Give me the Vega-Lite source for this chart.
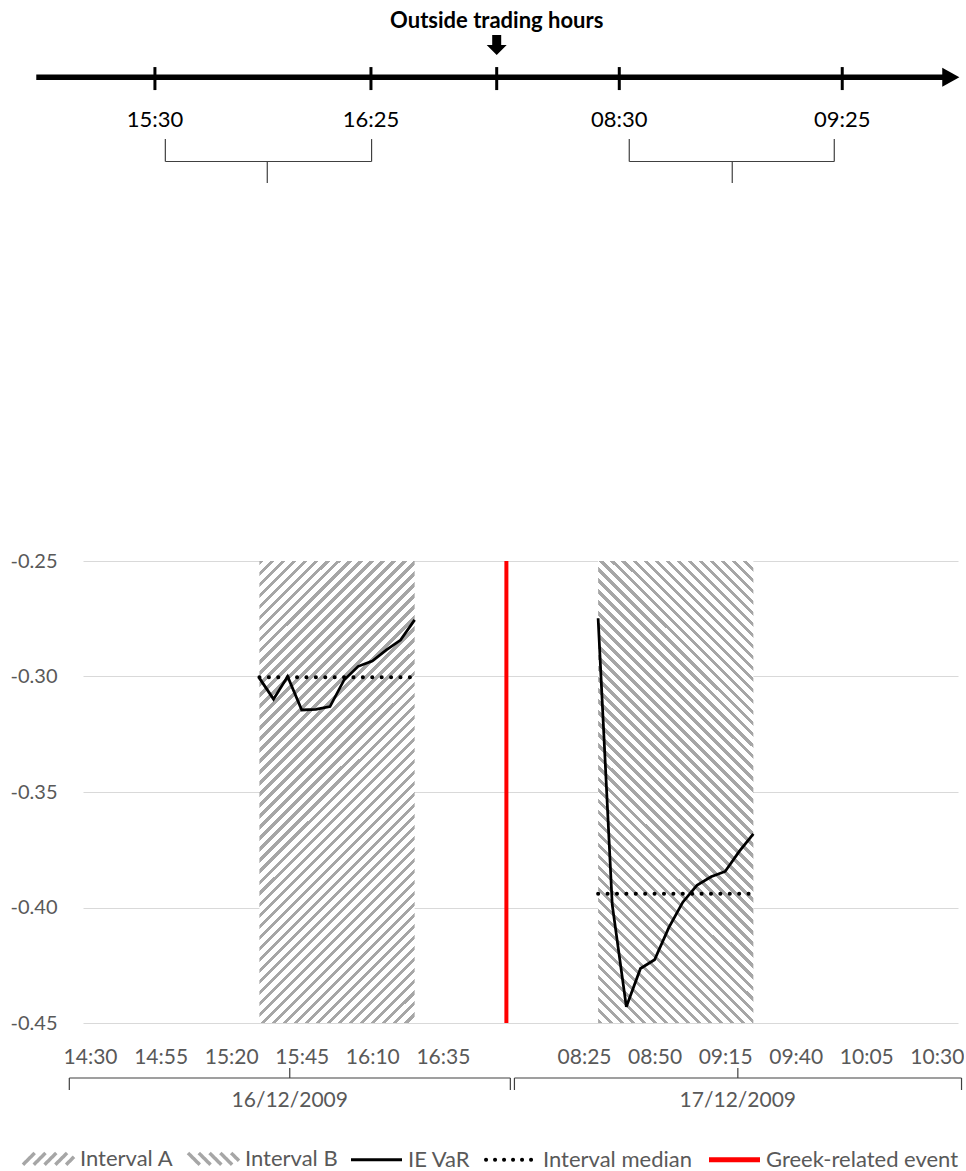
{
"$schema":"https://vega.github.io/schema/vega-lite/v6.json",
"padding":{"left":10,"top":0,"right":0,"bottom":0},
"autosize":{"type":"pad"},
"background":"#ffffff",
"bounds":"flush",
"spacing":371,
"config":{"view":{"stroke":null},"font":"Lato"},
"datasets":{
 "timeline":[{"from":-5.34,"to":98.5,"head":99.18}],
 "ticks":[{"label":"15:30","pos":8.22},{"label":"16:25","pos":32.91},{"label":"","pos":47.28},{"label":"08:30","pos":61.29},{"label":"09:25","pos":86.77}],
 "braces":[{"from":9.41,"to":32.98,"mid":21.06},{"from":62.43,"to":85.86,"mid":74.2}],
 "note":[{"note":"Outside trading hours","pos":47.28}],
 "var":[
  {"interval":"Interval A","date":"16/12/2009","time":"15:30","slot":12,"var":-0.3007},
  {"interval":"Interval A","date":"16/12/2009","time":"15:35","slot":13,"var":-0.3098},
  {"interval":"Interval A","date":"16/12/2009","time":"15:40","slot":14,"var":-0.3000},
  {"interval":"Interval A","date":"16/12/2009","time":"15:45","slot":15,"var":-0.3145},
  {"interval":"Interval A","date":"16/12/2009","time":"15:50","slot":16,"var":-0.3142},
  {"interval":"Interval A","date":"16/12/2009","time":"15:55","slot":17,"var":-0.3130},
  {"interval":"Interval A","date":"16/12/2009","time":"16:00","slot":18,"var":-0.3015},
  {"interval":"Interval A","date":"16/12/2009","time":"16:05","slot":19,"var":-0.2956},
  {"interval":"Interval A","date":"16/12/2009","time":"16:10","slot":20,"var":-0.2933},
  {"interval":"Interval A","date":"16/12/2009","time":"16:15","slot":21,"var":-0.2885},
  {"interval":"Interval A","date":"16/12/2009","time":"16:20","slot":22,"var":-0.2842},
  {"interval":"Interval A","date":"16/12/2009","time":"16:25","slot":23,"var":-0.2755},
  {"interval":"Interval B","date":"17/12/2009","time":"08:30","slot":36,"var":-0.2748},
  {"interval":"Interval B","date":"17/12/2009","time":"08:35","slot":37,"var":-0.3988},
  {"interval":"Interval B","date":"17/12/2009","time":"08:40","slot":38,"var":-0.4430},
  {"interval":"Interval B","date":"17/12/2009","time":"08:45","slot":39,"var":-0.4264},
  {"interval":"Interval B","date":"17/12/2009","time":"08:50","slot":40,"var":-0.4226},
  {"interval":"Interval B","date":"17/12/2009","time":"08:55","slot":41,"var":-0.4088},
  {"interval":"Interval B","date":"17/12/2009","time":"09:00","slot":42,"var":-0.3977},
  {"interval":"Interval B","date":"17/12/2009","time":"09:05","slot":43,"var":-0.3904},
  {"interval":"Interval B","date":"17/12/2009","time":"09:10","slot":44,"var":-0.3867},
  {"interval":"Interval B","date":"17/12/2009","time":"09:15","slot":45,"var":-0.3844},
  {"interval":"Interval B","date":"17/12/2009","time":"09:20","slot":46,"var":-0.3757},
  {"interval":"Interval B","date":"17/12/2009","time":"09:25","slot":47,"var":-0.3681}
 ],
 "event":[{"event":"Greek-related event","slot":29.5}],
 "dates":[{"date":"16/12/2009","start":-1.47,"end":29.78,"mid":14.15},{"date":"17/12/2009","start":30.07,"end":61.75,"mid":45.9}]
},
"vconcat":[
 {
  "width":875,"height":190,
  "layer":[
   {"data":{"name":"timeline"},
    "mark":{"type":"rule","color":"#000000","strokeWidth":5.5},
    "encoding":{"x":{"field":"from","type":"quantitative","scale":{"domain":[0,100],"nice":false,"zero":false},"axis":null},"x2":{"field":"to"},"y":{"datum":0.593,"type":"quantitative","scale":{"domain":[0,1],"nice":false,"zero":false},"axis":null}}},
   {"data":{"name":"timeline"},
    "mark":{"type":"point","shape":"M-0.9,-1L0.9,0L-0.9,1Z","filled":true,"size":361,"color":"#000000","opacity":1},
    "encoding":{"x":{"field":"head","type":"quantitative","axis":null},"y":{"datum":0.593,"type":"quantitative","axis":null}}},
   {"data":{"name":"ticks"},
    "mark":{"type":"rule","color":"#000000","strokeWidth":3},
    "encoding":{"x":{"field":"pos","type":"quantitative","axis":null},"y":{"datum":0.647,"type":"quantitative","axis":null},"y2":{"datum":0.526}}},
   {"data":{"name":"ticks"},
    "mark":{"type":"text","font":"Lato","fontSize":22,"color":"#000000","baseline":"middle","align":"center"},
    "encoding":{"x":{"field":"pos","type":"quantitative","axis":null},"y":{"datum":0.366,"type":"quantitative","axis":null},"text":{"field":"label"}}},
   {"data":{"name":"braces"},
    "mark":{"type":"rule","color":"#404040","strokeWidth":1.2},
    "encoding":{"x":{"field":"from","type":"quantitative","axis":null},"x2":{"field":"to"},"y":{"datum":0.15,"type":"quantitative","axis":null}}},
   {"data":{"name":"braces"},
    "mark":{"type":"rule","color":"#404040","strokeWidth":1.2},
    "encoding":{"x":{"field":"from","type":"quantitative","axis":null},"y":{"datum":0.268,"type":"quantitative","axis":null},"y2":{"datum":0.15}}},
   {"data":{"name":"braces"},
    "mark":{"type":"rule","color":"#404040","strokeWidth":1.2},
    "encoding":{"x":{"field":"to","type":"quantitative","axis":null},"y":{"datum":0.268,"type":"quantitative","axis":null},"y2":{"datum":0.15}}},
   {"data":{"name":"braces"},
    "mark":{"type":"rule","color":"#404040","strokeWidth":1.2},
    "encoding":{"x":{"field":"mid","type":"quantitative","axis":null},"y":{"datum":0.15,"type":"quantitative","axis":null},"y2":{"datum":0.037}}},
   {"data":{"name":"note"},
    "mark":{"type":"text","font":"Lato","fontSize":22,"fontWeight":"bold","color":"#000000","baseline":"middle","align":"center"},
    "encoding":{"x":{"field":"pos","type":"quantitative","axis":null},"y":{"datum":0.892,"type":"quantitative","axis":null},"text":{"field":"note"}}},
   {"data":{"name":"note"},
    "mark":{"type":"point","shape":"M-0.45,-1H0.45V0H1L0,1L-1,0H-0.45Z","filled":true,"size":400,"color":"#000000","opacity":1},
    "encoding":{"x":{"field":"pos","type":"quantitative","axis":null},"y":{"datum":0.763,"type":"quantitative","axis":null}}}
  ]
 },
 {
  "bounds":"flush",
  "spacing":42,
  "vconcat":[
   {
    "width":875,"height":462,
    "data":{"name":"var"},
    "encoding":{"x":{"field":"slot","type":"quantitative","scale":{"domain":[-0.5,61.5],"nice":false,"zero":false},
      "axis":{"title":null,"values":[0,5,10,15,20,25,35,40,45,50,55,60],"labelExpr":"timeFormat(datetime(2009, 11, datum.value < 30 ? 16 : 17, 0, datum.value < 30 ? 870 + 5 * datum.value : 330 + 5 * datum.value), '%H:%M')","grid":false,"ticks":false,"domain":false,"labelFont":"Lato","labelFontSize":21,"labelColor":"#595959","labelPadding":23,"labelFlush":false,"labelOverlap":false}}},
    "layer":[
     {"transform":[{"filter":"datum.interval === 'Interval A'"},{"aggregate":[{"op":"min","field":"slot","as":"slot"},{"op":"max","field":"slot","as":"slot_end"}],"groupby":["interval"]}],
      "mark":{"type":"rect","fill":{"gradient":"linear","x1":0,"y1":0,"x2":0.403,"y2":1.2004,"stops":[
{"offset":0,"color":"#a6a6a6"},{"offset":0.0071,"color":"#a6a6a6"},{"offset":0.0071,"color":"#fff"},{"offset":0.0179,"color":"#fff"},
{"offset":0.0179,"color":"#a6a6a6"},{"offset":0.025,"color":"#a6a6a6"},{"offset":0.025,"color":"#fff"},{"offset":0.0357,"color":"#fff"},
{"offset":0.0357,"color":"#a6a6a6"},{"offset":0.0429,"color":"#a6a6a6"},{"offset":0.0429,"color":"#fff"},{"offset":0.0536,"color":"#fff"},
{"offset":0.0536,"color":"#a6a6a6"},{"offset":0.0607,"color":"#a6a6a6"},{"offset":0.0607,"color":"#fff"},{"offset":0.0714,"color":"#fff"},
{"offset":0.0714,"color":"#a6a6a6"},{"offset":0.0786,"color":"#a6a6a6"},{"offset":0.0786,"color":"#fff"},{"offset":0.0893,"color":"#fff"},
{"offset":0.0893,"color":"#a6a6a6"},{"offset":0.0964,"color":"#a6a6a6"},{"offset":0.0964,"color":"#fff"},{"offset":0.1071,"color":"#fff"},
{"offset":0.1071,"color":"#a6a6a6"},{"offset":0.1143,"color":"#a6a6a6"},{"offset":0.1143,"color":"#fff"},{"offset":0.125,"color":"#fff"},
{"offset":0.125,"color":"#a6a6a6"},{"offset":0.1321,"color":"#a6a6a6"},{"offset":0.1321,"color":"#fff"},{"offset":0.1429,"color":"#fff"},
{"offset":0.1429,"color":"#a6a6a6"},{"offset":0.15,"color":"#a6a6a6"},{"offset":0.15,"color":"#fff"},{"offset":0.1607,"color":"#fff"},
{"offset":0.1607,"color":"#a6a6a6"},{"offset":0.1679,"color":"#a6a6a6"},{"offset":0.1679,"color":"#fff"},{"offset":0.1786,"color":"#fff"},
{"offset":0.1786,"color":"#a6a6a6"},{"offset":0.1857,"color":"#a6a6a6"},{"offset":0.1857,"color":"#fff"},{"offset":0.1964,"color":"#fff"},
{"offset":0.1964,"color":"#a6a6a6"},{"offset":0.2036,"color":"#a6a6a6"},{"offset":0.2036,"color":"#fff"},{"offset":0.2143,"color":"#fff"},
{"offset":0.2143,"color":"#a6a6a6"},{"offset":0.2214,"color":"#a6a6a6"},{"offset":0.2214,"color":"#fff"},{"offset":0.2321,"color":"#fff"},
{"offset":0.2321,"color":"#a6a6a6"},{"offset":0.2393,"color":"#a6a6a6"},{"offset":0.2393,"color":"#fff"},{"offset":0.25,"color":"#fff"},
{"offset":0.25,"color":"#a6a6a6"},{"offset":0.2571,"color":"#a6a6a6"},{"offset":0.2571,"color":"#fff"},{"offset":0.2679,"color":"#fff"},
{"offset":0.2679,"color":"#a6a6a6"},{"offset":0.275,"color":"#a6a6a6"},{"offset":0.275,"color":"#fff"},{"offset":0.2857,"color":"#fff"},
{"offset":0.2857,"color":"#a6a6a6"},{"offset":0.2929,"color":"#a6a6a6"},{"offset":0.2929,"color":"#fff"},{"offset":0.3036,"color":"#fff"},
{"offset":0.3036,"color":"#a6a6a6"},{"offset":0.3107,"color":"#a6a6a6"},{"offset":0.3107,"color":"#fff"},{"offset":0.3214,"color":"#fff"},
{"offset":0.3214,"color":"#a6a6a6"},{"offset":0.3286,"color":"#a6a6a6"},{"offset":0.3286,"color":"#fff"},{"offset":0.3393,"color":"#fff"},
{"offset":0.3393,"color":"#a6a6a6"},{"offset":0.3464,"color":"#a6a6a6"},{"offset":0.3464,"color":"#fff"},{"offset":0.3571,"color":"#fff"},
{"offset":0.3571,"color":"#a6a6a6"},{"offset":0.3643,"color":"#a6a6a6"},{"offset":0.3643,"color":"#fff"},{"offset":0.375,"color":"#fff"},
{"offset":0.375,"color":"#a6a6a6"},{"offset":0.3821,"color":"#a6a6a6"},{"offset":0.3821,"color":"#fff"},{"offset":0.3929,"color":"#fff"},
{"offset":0.3929,"color":"#a6a6a6"},{"offset":0.4,"color":"#a6a6a6"},{"offset":0.4,"color":"#fff"},{"offset":0.4107,"color":"#fff"},
{"offset":0.4107,"color":"#a6a6a6"},{"offset":0.4179,"color":"#a6a6a6"},{"offset":0.4179,"color":"#fff"},{"offset":0.4286,"color":"#fff"},
{"offset":0.4286,"color":"#a6a6a6"},{"offset":0.4357,"color":"#a6a6a6"},{"offset":0.4357,"color":"#fff"},{"offset":0.4464,"color":"#fff"},
{"offset":0.4464,"color":"#a6a6a6"},{"offset":0.4536,"color":"#a6a6a6"},{"offset":0.4536,"color":"#fff"},{"offset":0.4643,"color":"#fff"},
{"offset":0.4643,"color":"#a6a6a6"},{"offset":0.4714,"color":"#a6a6a6"},{"offset":0.4714,"color":"#fff"},{"offset":0.4821,"color":"#fff"},
{"offset":0.4821,"color":"#a6a6a6"},{"offset":0.4893,"color":"#a6a6a6"},{"offset":0.4893,"color":"#fff"},{"offset":0.5,"color":"#fff"},
{"offset":0.5,"color":"#a6a6a6"},{"offset":0.5071,"color":"#a6a6a6"},{"offset":0.5071,"color":"#fff"},{"offset":0.5179,"color":"#fff"},
{"offset":0.5179,"color":"#a6a6a6"},{"offset":0.525,"color":"#a6a6a6"},{"offset":0.525,"color":"#fff"},{"offset":0.5357,"color":"#fff"},
{"offset":0.5357,"color":"#a6a6a6"},{"offset":0.5429,"color":"#a6a6a6"},{"offset":0.5429,"color":"#fff"},{"offset":0.5536,"color":"#fff"},
{"offset":0.5536,"color":"#a6a6a6"},{"offset":0.5607,"color":"#a6a6a6"},{"offset":0.5607,"color":"#fff"},{"offset":0.5714,"color":"#fff"},
{"offset":0.5714,"color":"#a6a6a6"},{"offset":0.5786,"color":"#a6a6a6"},{"offset":0.5786,"color":"#fff"},{"offset":0.5893,"color":"#fff"},
{"offset":0.5893,"color":"#a6a6a6"},{"offset":0.5964,"color":"#a6a6a6"},{"offset":0.5964,"color":"#fff"},{"offset":0.6071,"color":"#fff"},
{"offset":0.6071,"color":"#a6a6a6"},{"offset":0.6143,"color":"#a6a6a6"},{"offset":0.6143,"color":"#fff"},{"offset":0.625,"color":"#fff"},
{"offset":0.625,"color":"#a6a6a6"},{"offset":0.6321,"color":"#a6a6a6"},{"offset":0.6321,"color":"#fff"},{"offset":0.6429,"color":"#fff"},
{"offset":0.6429,"color":"#a6a6a6"},{"offset":0.65,"color":"#a6a6a6"},{"offset":0.65,"color":"#fff"},{"offset":0.6607,"color":"#fff"},
{"offset":0.6607,"color":"#a6a6a6"},{"offset":0.6679,"color":"#a6a6a6"},{"offset":0.6679,"color":"#fff"},{"offset":0.6786,"color":"#fff"},
{"offset":0.6786,"color":"#a6a6a6"},{"offset":0.6857,"color":"#a6a6a6"},{"offset":0.6857,"color":"#fff"},{"offset":0.6964,"color":"#fff"},
{"offset":0.6964,"color":"#a6a6a6"},{"offset":0.7036,"color":"#a6a6a6"},{"offset":0.7036,"color":"#fff"},{"offset":0.7143,"color":"#fff"},
{"offset":0.7143,"color":"#a6a6a6"},{"offset":0.7214,"color":"#a6a6a6"},{"offset":0.7214,"color":"#fff"},{"offset":0.7321,"color":"#fff"},
{"offset":0.7321,"color":"#a6a6a6"},{"offset":0.7393,"color":"#a6a6a6"},{"offset":0.7393,"color":"#fff"},{"offset":0.75,"color":"#fff"},
{"offset":0.75,"color":"#a6a6a6"},{"offset":0.7571,"color":"#a6a6a6"},{"offset":0.7571,"color":"#fff"},{"offset":0.7679,"color":"#fff"},
{"offset":0.7679,"color":"#a6a6a6"},{"offset":0.775,"color":"#a6a6a6"},{"offset":0.775,"color":"#fff"},{"offset":0.7857,"color":"#fff"},
{"offset":0.7857,"color":"#a6a6a6"},{"offset":0.7929,"color":"#a6a6a6"},{"offset":0.7929,"color":"#fff"},{"offset":0.8036,"color":"#fff"},
{"offset":0.8036,"color":"#a6a6a6"},{"offset":0.8107,"color":"#a6a6a6"},{"offset":0.8107,"color":"#fff"},{"offset":0.8214,"color":"#fff"},
{"offset":0.8214,"color":"#a6a6a6"},{"offset":0.8286,"color":"#a6a6a6"},{"offset":0.8286,"color":"#fff"},{"offset":0.8393,"color":"#fff"},
{"offset":0.8393,"color":"#a6a6a6"},{"offset":0.8464,"color":"#a6a6a6"},{"offset":0.8464,"color":"#fff"},{"offset":0.8571,"color":"#fff"},
{"offset":0.8571,"color":"#a6a6a6"},{"offset":0.8643,"color":"#a6a6a6"},{"offset":0.8643,"color":"#fff"},{"offset":0.875,"color":"#fff"},
{"offset":0.875,"color":"#a6a6a6"},{"offset":0.8821,"color":"#a6a6a6"},{"offset":0.8821,"color":"#fff"},{"offset":0.8929,"color":"#fff"},
{"offset":0.8929,"color":"#a6a6a6"},{"offset":0.9,"color":"#a6a6a6"},{"offset":0.9,"color":"#fff"},{"offset":0.9107,"color":"#fff"},
{"offset":0.9107,"color":"#a6a6a6"},{"offset":0.9179,"color":"#a6a6a6"},{"offset":0.9179,"color":"#fff"},{"offset":0.9286,"color":"#fff"},
{"offset":0.9286,"color":"#a6a6a6"},{"offset":0.9357,"color":"#a6a6a6"},{"offset":0.9357,"color":"#fff"},{"offset":0.9464,"color":"#fff"},
{"offset":0.9464,"color":"#a6a6a6"},{"offset":0.9536,"color":"#a6a6a6"},{"offset":0.9536,"color":"#fff"},{"offset":0.9643,"color":"#fff"},
{"offset":0.9643,"color":"#a6a6a6"},{"offset":0.9714,"color":"#a6a6a6"},{"offset":0.9714,"color":"#fff"},{"offset":0.9821,"color":"#fff"},
{"offset":0.9821,"color":"#a6a6a6"},{"offset":0.9893,"color":"#a6a6a6"},{"offset":0.9893,"color":"#fff"},{"offset":1,"color":"#fff"}
]}},
      "encoding":{"x2":{"field":"slot_end"},"y":{"datum":-0.25,"type":"quantitative","scale":{"domain":[-0.45,-0.25],"nice":false,"zero":false},
        "axis":{"title":null,"values":[-0.45,-0.4,-0.35,-0.3,-0.25],"labelExpr":"replace(format(datum.value, '.2f'), '\u2212', '-')","grid":true,"gridColor":"#d9d9d9","gridWidth":1.2,"ticks":false,"domain":false,"labelFont":"Lato","labelFontSize":20,"labelColor":"#595959","labelPadding":26}},
        "y2":{"datum":-0.45}}},
     {"transform":[{"filter":"datum.interval === 'Interval B'"},{"aggregate":[{"op":"min","field":"slot","as":"slot"},{"op":"max","field":"slot","as":"slot_end"}],"groupby":["interval"]}],
      "mark":{"type":"rect","fill":{"gradient":"linear","x1":0,"y1":1,"x2":0.403,"y2":-0.2004,"stops":[
{"offset":0,"color":"#a6a6a6"},{"offset":0.0071,"color":"#a6a6a6"},{"offset":0.0071,"color":"#fff"},{"offset":0.0179,"color":"#fff"},
{"offset":0.0179,"color":"#a6a6a6"},{"offset":0.025,"color":"#a6a6a6"},{"offset":0.025,"color":"#fff"},{"offset":0.0357,"color":"#fff"},
{"offset":0.0357,"color":"#a6a6a6"},{"offset":0.0429,"color":"#a6a6a6"},{"offset":0.0429,"color":"#fff"},{"offset":0.0536,"color":"#fff"},
{"offset":0.0536,"color":"#a6a6a6"},{"offset":0.0607,"color":"#a6a6a6"},{"offset":0.0607,"color":"#fff"},{"offset":0.0714,"color":"#fff"},
{"offset":0.0714,"color":"#a6a6a6"},{"offset":0.0786,"color":"#a6a6a6"},{"offset":0.0786,"color":"#fff"},{"offset":0.0893,"color":"#fff"},
{"offset":0.0893,"color":"#a6a6a6"},{"offset":0.0964,"color":"#a6a6a6"},{"offset":0.0964,"color":"#fff"},{"offset":0.1071,"color":"#fff"},
{"offset":0.1071,"color":"#a6a6a6"},{"offset":0.1143,"color":"#a6a6a6"},{"offset":0.1143,"color":"#fff"},{"offset":0.125,"color":"#fff"},
{"offset":0.125,"color":"#a6a6a6"},{"offset":0.1321,"color":"#a6a6a6"},{"offset":0.1321,"color":"#fff"},{"offset":0.1429,"color":"#fff"},
{"offset":0.1429,"color":"#a6a6a6"},{"offset":0.15,"color":"#a6a6a6"},{"offset":0.15,"color":"#fff"},{"offset":0.1607,"color":"#fff"},
{"offset":0.1607,"color":"#a6a6a6"},{"offset":0.1679,"color":"#a6a6a6"},{"offset":0.1679,"color":"#fff"},{"offset":0.1786,"color":"#fff"},
{"offset":0.1786,"color":"#a6a6a6"},{"offset":0.1857,"color":"#a6a6a6"},{"offset":0.1857,"color":"#fff"},{"offset":0.1964,"color":"#fff"},
{"offset":0.1964,"color":"#a6a6a6"},{"offset":0.2036,"color":"#a6a6a6"},{"offset":0.2036,"color":"#fff"},{"offset":0.2143,"color":"#fff"},
{"offset":0.2143,"color":"#a6a6a6"},{"offset":0.2214,"color":"#a6a6a6"},{"offset":0.2214,"color":"#fff"},{"offset":0.2321,"color":"#fff"},
{"offset":0.2321,"color":"#a6a6a6"},{"offset":0.2393,"color":"#a6a6a6"},{"offset":0.2393,"color":"#fff"},{"offset":0.25,"color":"#fff"},
{"offset":0.25,"color":"#a6a6a6"},{"offset":0.2571,"color":"#a6a6a6"},{"offset":0.2571,"color":"#fff"},{"offset":0.2679,"color":"#fff"},
{"offset":0.2679,"color":"#a6a6a6"},{"offset":0.275,"color":"#a6a6a6"},{"offset":0.275,"color":"#fff"},{"offset":0.2857,"color":"#fff"},
{"offset":0.2857,"color":"#a6a6a6"},{"offset":0.2929,"color":"#a6a6a6"},{"offset":0.2929,"color":"#fff"},{"offset":0.3036,"color":"#fff"},
{"offset":0.3036,"color":"#a6a6a6"},{"offset":0.3107,"color":"#a6a6a6"},{"offset":0.3107,"color":"#fff"},{"offset":0.3214,"color":"#fff"},
{"offset":0.3214,"color":"#a6a6a6"},{"offset":0.3286,"color":"#a6a6a6"},{"offset":0.3286,"color":"#fff"},{"offset":0.3393,"color":"#fff"},
{"offset":0.3393,"color":"#a6a6a6"},{"offset":0.3464,"color":"#a6a6a6"},{"offset":0.3464,"color":"#fff"},{"offset":0.3571,"color":"#fff"},
{"offset":0.3571,"color":"#a6a6a6"},{"offset":0.3643,"color":"#a6a6a6"},{"offset":0.3643,"color":"#fff"},{"offset":0.375,"color":"#fff"},
{"offset":0.375,"color":"#a6a6a6"},{"offset":0.3821,"color":"#a6a6a6"},{"offset":0.3821,"color":"#fff"},{"offset":0.3929,"color":"#fff"},
{"offset":0.3929,"color":"#a6a6a6"},{"offset":0.4,"color":"#a6a6a6"},{"offset":0.4,"color":"#fff"},{"offset":0.4107,"color":"#fff"},
{"offset":0.4107,"color":"#a6a6a6"},{"offset":0.4179,"color":"#a6a6a6"},{"offset":0.4179,"color":"#fff"},{"offset":0.4286,"color":"#fff"},
{"offset":0.4286,"color":"#a6a6a6"},{"offset":0.4357,"color":"#a6a6a6"},{"offset":0.4357,"color":"#fff"},{"offset":0.4464,"color":"#fff"},
{"offset":0.4464,"color":"#a6a6a6"},{"offset":0.4536,"color":"#a6a6a6"},{"offset":0.4536,"color":"#fff"},{"offset":0.4643,"color":"#fff"},
{"offset":0.4643,"color":"#a6a6a6"},{"offset":0.4714,"color":"#a6a6a6"},{"offset":0.4714,"color":"#fff"},{"offset":0.4821,"color":"#fff"},
{"offset":0.4821,"color":"#a6a6a6"},{"offset":0.4893,"color":"#a6a6a6"},{"offset":0.4893,"color":"#fff"},{"offset":0.5,"color":"#fff"},
{"offset":0.5,"color":"#a6a6a6"},{"offset":0.5071,"color":"#a6a6a6"},{"offset":0.5071,"color":"#fff"},{"offset":0.5179,"color":"#fff"},
{"offset":0.5179,"color":"#a6a6a6"},{"offset":0.525,"color":"#a6a6a6"},{"offset":0.525,"color":"#fff"},{"offset":0.5357,"color":"#fff"},
{"offset":0.5357,"color":"#a6a6a6"},{"offset":0.5429,"color":"#a6a6a6"},{"offset":0.5429,"color":"#fff"},{"offset":0.5536,"color":"#fff"},
{"offset":0.5536,"color":"#a6a6a6"},{"offset":0.5607,"color":"#a6a6a6"},{"offset":0.5607,"color":"#fff"},{"offset":0.5714,"color":"#fff"},
{"offset":0.5714,"color":"#a6a6a6"},{"offset":0.5786,"color":"#a6a6a6"},{"offset":0.5786,"color":"#fff"},{"offset":0.5893,"color":"#fff"},
{"offset":0.5893,"color":"#a6a6a6"},{"offset":0.5964,"color":"#a6a6a6"},{"offset":0.5964,"color":"#fff"},{"offset":0.6071,"color":"#fff"},
{"offset":0.6071,"color":"#a6a6a6"},{"offset":0.6143,"color":"#a6a6a6"},{"offset":0.6143,"color":"#fff"},{"offset":0.625,"color":"#fff"},
{"offset":0.625,"color":"#a6a6a6"},{"offset":0.6321,"color":"#a6a6a6"},{"offset":0.6321,"color":"#fff"},{"offset":0.6429,"color":"#fff"},
{"offset":0.6429,"color":"#a6a6a6"},{"offset":0.65,"color":"#a6a6a6"},{"offset":0.65,"color":"#fff"},{"offset":0.6607,"color":"#fff"},
{"offset":0.6607,"color":"#a6a6a6"},{"offset":0.6679,"color":"#a6a6a6"},{"offset":0.6679,"color":"#fff"},{"offset":0.6786,"color":"#fff"},
{"offset":0.6786,"color":"#a6a6a6"},{"offset":0.6857,"color":"#a6a6a6"},{"offset":0.6857,"color":"#fff"},{"offset":0.6964,"color":"#fff"},
{"offset":0.6964,"color":"#a6a6a6"},{"offset":0.7036,"color":"#a6a6a6"},{"offset":0.7036,"color":"#fff"},{"offset":0.7143,"color":"#fff"},
{"offset":0.7143,"color":"#a6a6a6"},{"offset":0.7214,"color":"#a6a6a6"},{"offset":0.7214,"color":"#fff"},{"offset":0.7321,"color":"#fff"},
{"offset":0.7321,"color":"#a6a6a6"},{"offset":0.7393,"color":"#a6a6a6"},{"offset":0.7393,"color":"#fff"},{"offset":0.75,"color":"#fff"},
{"offset":0.75,"color":"#a6a6a6"},{"offset":0.7571,"color":"#a6a6a6"},{"offset":0.7571,"color":"#fff"},{"offset":0.7679,"color":"#fff"},
{"offset":0.7679,"color":"#a6a6a6"},{"offset":0.775,"color":"#a6a6a6"},{"offset":0.775,"color":"#fff"},{"offset":0.7857,"color":"#fff"},
{"offset":0.7857,"color":"#a6a6a6"},{"offset":0.7929,"color":"#a6a6a6"},{"offset":0.7929,"color":"#fff"},{"offset":0.8036,"color":"#fff"},
{"offset":0.8036,"color":"#a6a6a6"},{"offset":0.8107,"color":"#a6a6a6"},{"offset":0.8107,"color":"#fff"},{"offset":0.8214,"color":"#fff"},
{"offset":0.8214,"color":"#a6a6a6"},{"offset":0.8286,"color":"#a6a6a6"},{"offset":0.8286,"color":"#fff"},{"offset":0.8393,"color":"#fff"},
{"offset":0.8393,"color":"#a6a6a6"},{"offset":0.8464,"color":"#a6a6a6"},{"offset":0.8464,"color":"#fff"},{"offset":0.8571,"color":"#fff"},
{"offset":0.8571,"color":"#a6a6a6"},{"offset":0.8643,"color":"#a6a6a6"},{"offset":0.8643,"color":"#fff"},{"offset":0.875,"color":"#fff"},
{"offset":0.875,"color":"#a6a6a6"},{"offset":0.8821,"color":"#a6a6a6"},{"offset":0.8821,"color":"#fff"},{"offset":0.8929,"color":"#fff"},
{"offset":0.8929,"color":"#a6a6a6"},{"offset":0.9,"color":"#a6a6a6"},{"offset":0.9,"color":"#fff"},{"offset":0.9107,"color":"#fff"},
{"offset":0.9107,"color":"#a6a6a6"},{"offset":0.9179,"color":"#a6a6a6"},{"offset":0.9179,"color":"#fff"},{"offset":0.9286,"color":"#fff"},
{"offset":0.9286,"color":"#a6a6a6"},{"offset":0.9357,"color":"#a6a6a6"},{"offset":0.9357,"color":"#fff"},{"offset":0.9464,"color":"#fff"},
{"offset":0.9464,"color":"#a6a6a6"},{"offset":0.9536,"color":"#a6a6a6"},{"offset":0.9536,"color":"#fff"},{"offset":0.9643,"color":"#fff"},
{"offset":0.9643,"color":"#a6a6a6"},{"offset":0.9714,"color":"#a6a6a6"},{"offset":0.9714,"color":"#fff"},{"offset":0.9821,"color":"#fff"},
{"offset":0.9821,"color":"#a6a6a6"},{"offset":0.9893,"color":"#a6a6a6"},{"offset":0.9893,"color":"#fff"},{"offset":1,"color":"#fff"}
]}},
      "encoding":{"x2":{"field":"slot_end"},"y":{"datum":-0.25,"type":"quantitative",
        "axis":{"title":null,"values":[-0.45,-0.4,-0.35,-0.3,-0.25],"labelExpr":"replace(format(datum.value, '.2f'), '\u2212', '-')","grid":true,"gridColor":"#d9d9d9","gridWidth":1.2,"ticks":false,"domain":false,"labelFont":"Lato","labelFontSize":20,"labelColor":"#595959","labelPadding":26}},
        "y2":{"datum":-0.45}}},
     {"data":{"name":"event"},
      "mark":{"type":"rule","strokeWidth":4},
      "encoding":{"y":{"datum":-0.25,"type":"quantitative",
        "axis":{"title":null,"values":[-0.45,-0.4,-0.35,-0.3,-0.25],"labelExpr":"replace(format(datum.value, '.2f'), '\u2212', '-')","grid":true,"gridColor":"#d9d9d9","gridWidth":1.2,"ticks":false,"domain":false,"labelFont":"Lato","labelFontSize":20,"labelColor":"#595959","labelPadding":26}},
        "y2":{"datum":-0.45},
        "color":{"field":"event","type":"nominal",
          "scale":{"domain":["Interval A","Interval B","IE VaR","Interval median","Greek-related event"],"range":["#a6a6a6","#a6a6a6","#000000","#000000","#ff0000"]},
          "legend":{"orient":"none","legendX":-62,"legendY":1131,"direction":"horizontal","columns":5,"title":null,"gridAlign":"each",
            "symbolSize":2601,"labelFont":"Lato","labelFontSize":22,"labelColor":"#595959","labelOffset":4,"columnPadding":7,"padding":0,"labelLimit":400,
            "encode":{"symbols":{"update":{
              "shape":{"signal":"(datum.value === 'Interval A' ? 'M-1,0.23L-0.54,-0.23M-0.577,0.23L-0.117,-0.23M-0.154,0.23L0.306,-0.23M0.269,0.23L0.729,-0.23M0.692,0.23L1,-0.078' : datum.value === 'Interval B' ? 'M-1,-0.23L-0.54,0.23M-0.577,-0.23L-0.117,0.23M-0.154,-0.23L0.306,0.23M0.269,-0.23L0.729,0.23M0.692,-0.23L1,0.078' : 'M-1,0H1')"},
              "stroke":{"signal":"(datum.value === 'Greek-related event' ? '#ff0000' : (datum.value === 'Interval A' || datum.value === 'Interval B') ? '#a6a6a6' : '#000000')"},
              "strokeWidth":{"signal":"(datum.value === 'Greek-related event' ? 5 : datum.value === 'Interval median' ? 4 : datum.value === 'IE VaR' ? 3 : 3.5)"},
              "strokeDash":{"signal":"(datum.value === 'Interval median' ? [0.1, 8.9] : [1, 0])"},
              "strokeCap":{"signal":"(datum.value === 'Interval median' ? 'round' : 'butt')"},
              "fill":{"value":"transparent"},
              "size":{"value":2601},
              "opacity":{"value":1}
            }}}}}}},
     {"mark":{"type":"line","strokeWidth":2.75},
      "encoding":{"y":{"field":"var","type":"quantitative",
        "axis":{"title":null,"values":[-0.45,-0.4,-0.35,-0.3,-0.25],"labelExpr":"replace(format(datum.value, '.2f'), '\u2212', '-')","grid":true,"gridColor":"#d9d9d9","gridWidth":1.2,"ticks":false,"domain":false,"labelFont":"Lato","labelFontSize":20,"labelColor":"#595959","labelPadding":26}},
        "detail":{"field":"interval"},
        "color":{"datum":"IE VaR"}}},
     {"transform":[{"aggregate":[{"op":"median","field":"var","as":"var"},{"op":"min","field":"slot","as":"slot"},{"op":"max","field":"slot","as":"slot_end"}],"groupby":["interval"]}],
      "mark":{"type":"rule","strokeWidth":4,"strokeDash":[0.1,9.3],"strokeCap":"round"},
      "encoding":{"x2":{"field":"slot_end"},"y":{"field":"var","type":"quantitative",
        "axis":{"title":null,"values":[-0.45,-0.4,-0.35,-0.3,-0.25],"labelExpr":"replace(format(datum.value, '.2f'), '\u2212', '-')","grid":true,"gridColor":"#d9d9d9","gridWidth":1.2,"ticks":false,"domain":false,"labelFont":"Lato","labelFontSize":20,"labelColor":"#595959","labelPadding":26}},
        "color":{"datum":"Interval median"}}}
    ]
   },
   {
    "width":875,"height":45,
    "data":{"name":"dates"},
    "layer":[
     {"mark":{"type":"rule","color":"#404040","strokeWidth":1.2},
      "encoding":{"x":{"field":"start","type":"quantitative","scale":{"domain":[-0.5,61.5],"nice":false,"zero":false},"axis":null},"x2":{"field":"end"},"y":{"datum":0.711,"type":"quantitative","scale":{"domain":[0,1],"nice":false,"zero":false},"axis":null}}},
     {"mark":{"type":"rule","color":"#404040","strokeWidth":1.2},
      "encoding":{"x":{"field":"start","type":"quantitative","axis":null},"y":{"datum":0.711,"type":"quantitative","axis":null},"y2":{"datum":0.444}}},
     {"mark":{"type":"rule","color":"#404040","strokeWidth":1.2},
      "encoding":{"x":{"field":"end","type":"quantitative","axis":null},"y":{"datum":0.711,"type":"quantitative","axis":null},"y2":{"datum":0.444}}},
     {"mark":{"type":"rule","color":"#404040","strokeWidth":1.2},
      "encoding":{"x":{"field":"mid","type":"quantitative","axis":null},"y":{"datum":0.711,"type":"quantitative","axis":null},"y2":{"datum":0.933}}},
     {"mark":{"type":"text","font":"Lato","fontSize":21,"color":"#595959","baseline":"middle","align":"center"},
      "encoding":{"x":{"field":"mid","type":"quantitative","axis":null},"y":{"datum":0.2,"type":"quantitative","axis":null},"text":{"field":"date"}}}
    ]
   }
  ]
 }
]
}
